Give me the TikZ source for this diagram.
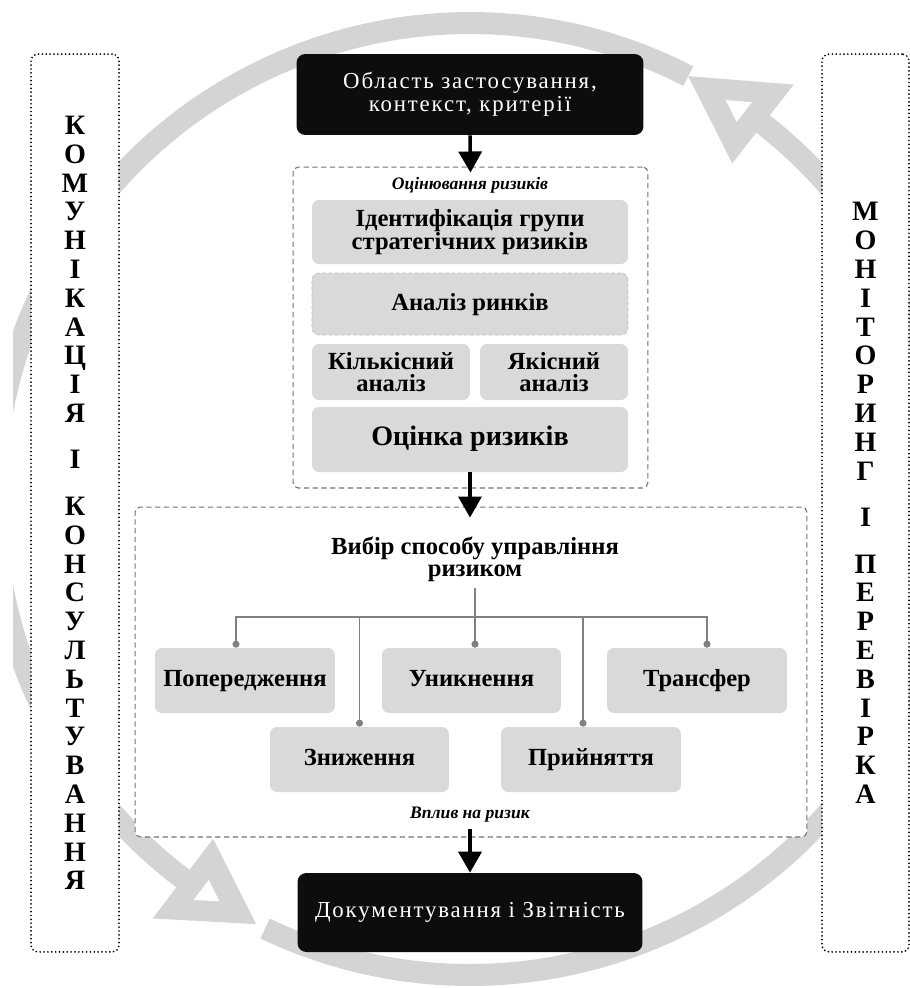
\documentclass[tikz,border=0pt]{standalone}
\usepackage{fontspec}
\setmainfont{Liberation Serif}
\newfontfamily\spacedserif[LetterSpace=8]{Liberation Serif}
\usetikzlibrary{arrows.meta,calc}

\tikzset{
  ringband/.style={draw=black!17, line width=0.44cm},
  graybox/.style={fill=black!15, rounded corners=4pt, align=center, inner sep=0pt,
    font=\bfseries\fontsize{14}{13}\selectfont},
  oneline/.style={text height=10pt, text depth=3pt},
  darkbox/.style={fill=black!95, rounded corners=5pt, text=white, align=center,
    font=\spacedserif\fontsize{13}{13}\selectfont},
  groupbox/.style={draw=black!55, line width=0.6pt, dash pattern=on 3pt off 2pt,
    rounded corners=3pt, fill=white},
  sidebox/.style={draw, line width=1.1pt, dash pattern=on 0pt off 2.2pt, line cap=round,
    rounded corners=4pt, fill=white, align=center,
    font=\bfseries\fontsize{16}{16.4}\selectfont},
  tag/.style={font=\bfseries\itshape\fontsize{10}{12}\selectfont},
  flow/.style={-{Triangle[length=0.42cm,width=0.46cm]}, line width=2pt},
  branch/.style={draw=black!50, line width=0.6pt, -{Circle[length=4pt]}},
}

\begin{document}
\begin{tikzpicture}[x=0.02cm, y=-0.02cm]
  \useasboundingbox (0,0) rectangle (910,988);

  %%%%% RING %%%%%
  \begin{scope}
    \clip (13,0) rectangle (910,988);
    \coordinate (ring) at (470,499);
    \draw[ringband] (ring) ++(62.7:9.52cm) arc[start angle=62.7, end angle=232.9, radius=9.52cm];
    \draw[ringband] (ring) ++(244.5:9.52cm) arc[start angle=244.5, end angle=412, radius=9.52cm];
    \foreach \b/\a/\n in {52/62.7/tr, 232.9/243.3/bl}{
      \path (ring) ++(\b:10.52cm) coordinate (\n1)
            (ring) ++(\b:8.52cm) coordinate (\n2)
            (ring) ++(\a:9.52cm) coordinate (\n3);
      \coordinate (\n m) at ($(\n1)!0.5!(\n2)$);
      \coordinate (\n g) at ($(\n3)!0.667!(\n m)$);
      \fill[black!17] (\n1) -- (\n2) -- (\n3) -- cycle;
      \fill[white] ($(\n g)!0.25!(\n1)$) -- ($(\n g)!0.25!(\n2)$) -- ($(\n g)!0.25!(\n3)$) -- cycle;
    }
  \end{scope}

  %%%%% SIDES %%%%%
  \node[sidebox, minimum width=1.76cm, minimum height=17.96cm] (comm) at (75,503)
    {К\\О\\М\\У\\Н\\І\\К\\А\\Ц\\І\\Я\\[10pt]І\\[10pt]К\\О\\Н\\С\\У\\Л\\Ь\\Т\\У\\В\\А\\Н\\Н\\Я};
  \node[sidebox, minimum width=1.74cm, minimum height=17.96cm] (monitor) at (865.5,503)
    {М\\О\\Н\\І\\Т\\О\\Р\\И\\Н\\Г\\[10pt]І\\[10pt]П\\Е\\Р\\Е\\В\\І\\Р\\К\\А};

  %%%%% ASSESSMENT %%%%%
  \node[darkbox, minimum width=6.94cm, minimum height=1.62cm] (context) at (470,94.5)
    {Область застосування,\\контекст, критерії};
  \node[groupbox, minimum width=7.1cm, minimum height=6.42cm] (assess) at (470.5,327.5) {};
  \node[tag] (assesstag) at (470,185) {Оцінювання ризиків};
  \node[graybox, minimum width=6.32cm, minimum height=1.28cm] (ident) at (470,232)
    {Ідентифікація групи\\стратегічних ризиків};
  \node[graybox, oneline, draw=black!25, dash pattern=on 2pt off 1.5pt, minimum width=6.32cm,
    minimum height=1.24cm] (market) at (470,304) {Аналіз ринків};
  \node[graybox, minimum width=3.16cm, minimum height=1.12cm] (quant) at (391,372) {Кількісний\\аналіз};
  \node[graybox, minimum width=2.96cm, minimum height=1.12cm] (qual) at (554,372) {Якісний\\аналіз};
  \node[graybox, oneline, minimum width=6.32cm, minimum height=1.3cm,
    font=\bfseries\fontsize{16}{16}\selectfont] (rate) at (470,439.5) {Оцінка ризиків};

  %%%%% TREATMENT %%%%%
  \node[groupbox, minimum width=13.44cm, minimum height=6.6cm] (treat) at (471,672) {};
  \node[align=center, font=\bfseries\fontsize{14}{12.5}\selectfont] (choice) at (475,559)
    {Вибір способу управління\\ризиком};
  \node[graybox, oneline, minimum width=3.6cm, minimum height=1.3cm] (prev) at (245,680.5) {Попередження};
  \node[graybox, oneline, minimum width=3.58cm, minimum height=1.3cm] (avoid) at (471.5,680.5) {Уникнення};
  \node[graybox, oneline, minimum width=3.6cm, minimum height=1.3cm] (trans) at (697,680.5) {Трансфер};
  \node[graybox, oneline, minimum width=3.58cm, minimum height=1.3cm] (reduce) at (359.5,759.5) {Зниження};
  \node[graybox, oneline, minimum width=3.6cm, minimum height=1.3cm] (accept) at (591,759.5) {Прийняття};
  \node[tag] (impact) at (470,815) {Вплив на ризик};
  \node[darkbox, minimum width=6.9cm, minimum height=1.58cm] (report) at (470,912.5)
    {Документування і Звітність};

  %%%%% CONNECTORS %%%%%
  \coordinate (bar) at (475,617);
  \draw[branch, {Circle[length=4pt]}-{Circle[length=4pt]}]
    ([xshift=-0.18cm]prev.north) |- (bar) -| ([xshift=0.2cm]trans.north);
  \draw[branch] (choice.south) -- (choice.south |- avoid.north);
  \draw[branch] (reduce.north |- bar) -- (reduce.north);
  \draw[branch] ([xshift=-0.16cm]accept.north |- bar) -- ([xshift=-0.16cm]accept.north);

  \draw[flow] (context.south) -- ([yshift=-0.12cm]assess.north);
  \draw[flow] (rate.south) -- ([yshift=-0.22cm]rate.south |- treat.north);
  \draw[flow] (impact.south) -- (report.north);
\end{tikzpicture}
\end{document}
